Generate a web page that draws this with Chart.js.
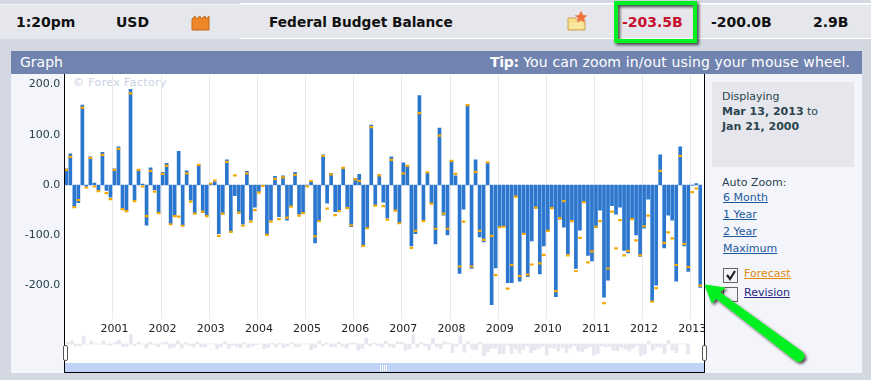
<!DOCTYPE html>
<html lang="en">
<head>
  <meta charset="UTF-8" />
  <title>Federal Budget Balance</title>
  <script src="https://cdn.jsdelivr.net/npm/chart.js"></script>
  <style>
    html, body { margin: 0; padding: 0; }
    body {
      width: 871px; height: 380px; position: relative; overflow: hidden;
      background: #d3d8e2; font-family: 'DejaVu Sans', sans-serif; font-size: 11px;
    }
    .abs { position: absolute; white-space: nowrap; }
    #strip { left: 0; top: 4px; width: 871px; height: 35px; background: #e5e7ec; border-top: 1px solid #f4f5f8; box-sizing: border-box; }
    #stripRight { left: 240px; top: 3px; width: 631px; height: 36px; border-top: 1px solid #fff; border-bottom: 1px solid #fff; box-sizing: border-box; }
    .top { top: 14px; font-size: 14px; font-weight: bold; line-height: 17px; color: #111; }
    #panel { left: 11px; top: 51px; width: 851px; height: 322px; background: #f3f5fa; }
    #head { left: 11px; top: 51px; width: 851px; height: 23px; background: #7184b0; color: #fff; font-size: 14px; line-height: 22px; }
    #white { left: 65px; top: 74px; width: 639px; height: 298px; background: #fff; }
    #side { left: 705px; top: 74px; width: 157px; height: 299px; background: #f3f5fa; }
    #box { left: 712px; top: 82px; width: 142px; height: 85px; background: #e5e7ec; }
    .side { color: #2c4450; line-height: 15px; }
    a { text-decoration: underline; color: #1b5a9c; }
    #scroll { left: 65px; top: 363px; width: 639px; height: 9px; background: #c0d2f8; }
    #grip { left: 380px; top: 365px; width: 8px; height: 6px; background: repeating-linear-gradient(90deg, #fff 0 1px, #c0d2f8 1px 2px); }
    .hline { background: #000; }
    .handle { width: 3px; height: 14px; top: 345px; background: #fff; border: 1px solid #555; border-radius: 2px; }
    .check { left: 723px; width: 13px; height: 13px; background: #f3f5fa; border: 1px solid #666; }
    canvas { position: absolute; }
    #watermark { left: 73px; top: 76px; color: #c9d1e2; font-size: 11px; letter-spacing: 0.37px; }
  </style>
</head>
<body>
  <div class="abs" id="strip"></div>
  <div class="abs" id="stripRight"></div>
  <div class="abs top" style="left:16px">1:20pm</div>
  <div class="abs top" style="left:116px">USD</div>
  <div class="abs top" style="left:269px;font-size:13.7px">Federal Budget Balance</div>
  <div class="abs top" style="left:622px;color:#c8102e">-203.5B</div>
  <div class="abs top" style="left:711px">-200.0B</div>
  <div class="abs top" style="left:813px">2.9B</div>
  <svg class="abs" style="left:191px;top:14px" width="20" height="17">
    <path d="M1 16V5l3-3 1 3 4-3 1 3 4-3 1 3 3-3v14z" fill="#f0862a" stroke="#c4691c"/>
  </svg>
  <svg class="abs" style="left:567px;top:10px" width="21" height="21">
    <path d="M1 8h7l2 2h8v10H1z" fill="#f6e08a" stroke="#d0a050"/>
    <path d="M3 14h13M3 17h13" stroke="#fff6c8"/>
    <path d="M14 1l2 4 4 .5-3 3 1 4-4-2-4 2 1-4-3-3 4-.5z" fill="#f0703a" stroke="#e8a080" stroke-width="0.5"/>
  </svg>

  <div class="abs" id="panel"></div>
  <div class="abs" id="head">
    <span class="abs" style="left:9px">Graph</span>
    <span class="abs" style="right:12px;letter-spacing:0.13px"><b style="letter-spacing:-0.3px">Tip:</b> You can zoom in/out using your mouse wheel.</span>
  </div>
  <div class="abs" id="white"></div>
  <div class="abs" id="watermark">© Forex Factory</div>

  <canvas id="miniChart" width="871" height="380" style="left:0;top:0"></canvas>
  <canvas id="budgetChart" width="871" height="380" style="left:0;top:0"></canvas>

  <div class="abs" id="side"></div>
  <div class="abs" id="scroll"></div>
  <div class="abs" id="grip"></div>
  <div class="abs hline" style="left:64px;top:74px;width:1px;height:299px"></div>
  <div class="abs hline" style="left:704px;top:74px;width:1px;height:299px"></div>
  <div class="abs hline" style="left:64px;top:372px;width:641px;height:1px"></div>
  <div class="abs handle" style="left:63px"></div>
  <div class="abs handle" style="left:702px"></div>

  <div class="abs" id="box"></div>
  <div class="abs side" style="left:722px;top:89px">Displaying<br><b>Mar 13, 2013</b> to<br><b>Jan 21, 2000</b></div>
  <div class="abs side" style="left:722px;top:175px">Auto Zoom:</div>
  <a class="abs" style="left:723px;top:191px">6 Month</a>
  <a class="abs" style="left:723px;top:208px">1 Year</a>
  <a class="abs" style="left:723px;top:225px">2 Year</a>
  <a class="abs" style="left:723px;top:242px">Maximum</a>
  <div class="abs check" style="top:268px">
    <svg width="13" height="13" style="display:block"><path d="M3 6l3 4 5-8" fill="none" stroke="#222" stroke-width="2.2"/></svg>
  </div>
  <a class="abs" style="left:744px;top:267px;color:#e08a10">Forecast</a>
  <div class="abs check" style="top:287px"></div>
  <a class="abs" style="left:744px;top:286px;color:#27277f">Revision</a>

  <!-- green callouts on top of the screenshot -->
  <svg class="abs" style="left:0;top:0" width="871" height="380">
    <defs>
      <filter id="shade" x="-20%" y="-20%" width="140%" height="140%">
        <feDropShadow dx="2" dy="2" stdDeviation="1.5" flood-color="#000" flood-opacity="0.7"/>
      </filter>
    </defs>
    <rect x="616" y="3" width="79" height="38" fill="none" stroke="#00f020" stroke-width="4" filter="url(#shade)"/>
    <path d="M705 285L725 288L719 292L802 352Q806 357 802 360Q799 363 795 360L716 298L712 303Z" fill="#00f020" stroke="#00f020" stroke-linejoin="round" filter="url(#shade)"/>
  </svg>

  <script>
    const yearLabels = ['2000', '2001', '2002', '2003', '2004', '2005', '2006', '2007', '2008', '2009', '2010', '2011', '2012', '2013'];
    const monthLabels = ['Jan', 'Feb', 'Mar', 'Apr', 'May', 'Jun', 'Jul', 'Aug', 'Sep', 'Oct', 'Nov', 'Dec'];
    const yTicks = [200, 100, 0, -100, -200];

    const actual = [
      32, 62, -44, -35, 159, -3, 56, 4, -10, 65,
      -11, -24, 32, 76, -48, -52, 190, -30, 30, 2,
      -80, 34, -10, -56, 25, 43, -78, -62, 67, -81,
      28, -30, -57, 40, -55, -60, 2, 7, -97, -58,
      50, -93, -21, -56, -78, 27, -70, -44, -13, 0,
      -98, -70, 17, -63, 18, -70, -41, 25, -58, -56,
      -1, 7, -115, -73, 60, -36, 23, -53, -53, 34,
      -46, -83, 13, 21, -122, -87, 119, -41, 20, -34,
      -66, 56, -50, -76, 44, 38, -121, -97, 178, -69,
      25, -36, -117, 113, -60, -99, 48, 18, -176, -48,
      159, -166, 50, -103, -113, 43, -238, -165, -84, -83,
      -194, -194, -23, -191, -97, -182, -111, -46, -177, -121,
      -91, -46, -222, -68, -84, -137, -69, -166, -90, -34,
      -140, -151, -85, -50, -223, -189, -41, -58, -44, -130,
      -135, -68, -99, -142, -86, -28, -232, -199, 60, -125,
      -60, -70, -191, 76, -121, -172, -1, 3, -203.5
    ];

    const forecast = [
      30, 56, -44, -30, 154, -5, 54, -3, -12, 60,
      -16, -28, 30, 72, -48, -52, 182, -32, 30, -3,
      -62, 28, -13, -56, 22, 38, -78, -62, -63, -81,
      23, -33, -57, 40, -53, -62, 3, 9, -101, -57,
      46, -93, 19, -55, -81, 23, -73, -50, -15, -2,
      -99, -73, 12, -68, 15, -65, -43, 20, -61, -56,
      -3, 8, -102, -72, 58, -47, 21, -60, -52, 34,
      -46, -80, 11, 8, -121, -86, 115, -41, 19, -42,
      -69, 50, -51, -76, 23, 38, -125, -91, 143, -72,
      25, -37, -87, 98, -57, -87, 48, 22, -162, -73,
      159, -162, 26, -91, -109, 45, -101, -179, -84, -83,
      -206, -159, -23, -181, -97, -178, -158, -45, -156, -139,
      -91, -46, -211, -66, -32, -140, -72, -171, -105, -34,
      -154, -132, -83, -72, -235, -166, -53, -126, -70, -140,
      -131, -68, -110, -140, -82, -61, -232, -205, 28, -115,
      -94, -106, -159, 58, -117, -163, -14, -7, -200
    ];

    // one category per monthly release, Jan 2000 onwards
    const categories = actual.map((_, i) => monthLabels[i % 12] + ' ' + yearLabels[Math.floor(i / 12)]);

    Chart.defaults.animation = false;
    Chart.defaults.responsive = false;
    Chart.defaults.font.family = "'DejaVu Sans', sans-serif";
    Chart.defaults.font.size = 11;

    // year separators only, the built-in grid thins its lines out at this many ticks
    const yearLines = {
      id: 'yearLines',
      beforeDatasetsDraw(chart) {
        const { ctx, chartArea, scales } = chart;
        const halfBand = (scales.x.getPixelForValue(1) - scales.x.getPixelForValue(0)) / 2;
        ctx.save();
        ctx.fillStyle = '#e9e9ee';
        for (let i = 12; i < categories.length; i += 12) {
          const x = Math.round(scales.x.getPixelForValue(i) - halfBand);
          ctx.fillRect(x, chartArea.top, 1, chartArea.bottom - chartArea.top);
        }
        ctx.restore();
      }
    };

    new Chart(document.getElementById('budgetChart'), {
      data: {
        labels: categories,
        datasets: [
          {
            type: 'line',
            label: 'Forecast',
            data: forecast,
            showLine: false,
            pointStyle: 'line',
            pointRadius: 1.8,
            pointBorderWidth: 2.2,
            pointBorderColor: '#f5a900',
            order: 0
          },
          {
            type: 'bar',
            label: 'Actual',
            data: actual,
            backgroundColor: '#2b76cf',
            barThickness: 3,
            order: 1
          }
        ]
      },
      plugins: [yearLines],
      options: {
        layout: { padding: { left: 0, right: 168.7, top: 75, bottom: 41 } },
        plugins: { legend: { display: false }, tooltip: { enabled: false } },
        scales: {
          x: {
            offset: true,
            border: { display: false },
            grid: { display: false, tickLength: 0 },
            afterFit: (s) => { s.height = 20; },
            ticks: {
              autoSkip: false,
              maxRotation: 0,
              padding: 4,
              color: '#222',
              callback: (v, i) => (i % 12 === 0 && i > 0 ? yearLabels[i / 12] : null)
            }
          },
          y: {
            min: -266.4,
            max: 218.7,
            border: { display: false },
            grid: { display: false, tickLength: 0 },
            afterBuildTicks: (s) => { s.ticks = yTicks.map((value) => ({ value })); },
            afterFit: (s) => { s.width = 64.3; },
            ticks: {
              padding: 4,
              color: '#24404c',
              callback: (v) => v.toFixed(1)
            }
          }
        }
      }
    });

    // overview strip under the main plot
    new Chart(document.getElementById('miniChart'), {
      type: 'bar',
      data: {
        labels: categories,
        datasets: [{ data: actual, backgroundColor: '#e6e7ef', barThickness: 3 }]
      },
      options: {
        layout: { padding: { left: 66, right: 181, top: 334, bottom: 21 } },
        plugins: { legend: { display: false }, tooltip: { enabled: false } },
        scales: {
          x: { display: false },
          y: { display: false, min: -300, max: 200 }
        }
      }
    });
  </script>
</body>
</html>
